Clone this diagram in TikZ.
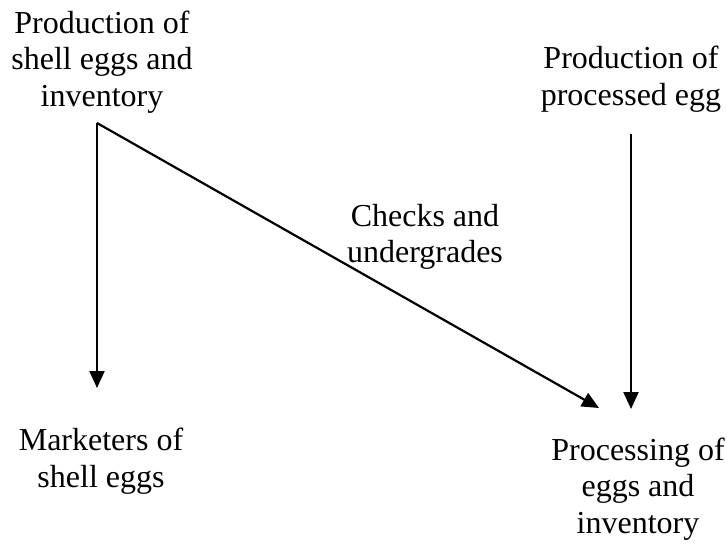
\documentclass[tikz,border=0pt]{standalone}
\usepackage{fontspec}
\setmainfont{Liberation Serif}
\usetikzlibrary{arrows.meta}
\begin{document}
\begin{tikzpicture}[x=1pt,y=-1pt,
  lbl/.style={align=center,inner sep=0pt,font=\fontsize{32}{36.5}\selectfont},
  conn/.style={line width=2.2pt,-{Triangle[length=17pt,width=15pt]}}]
\useasboundingbox (0,0) rectangle (727,544);
\node[lbl] (tl) at (102,62) {Production of\\shell eggs and\\inventory};
\node[lbl] (tr) at (631,79) {Production of\\processed egg};
\node[lbl] (mid) at (425,237) {Checks and\\undergrades};
\node[lbl] (bl) at (101,461) {Marketers of\\shell eggs};
\node[lbl] (br) at (638,489) {Processing of\\eggs and\\inventory};
\coordinate (s1) at (97,123);
\coordinate (e1) at (97,388);
\coordinate (e2) at (599,408);
\coordinate (s3) at (631,134);
\coordinate (e3) at (631,409);
\draw[conn] (s1) -- (e1);
\draw[conn] (s1) -- (e2);
\draw[conn] (s3) -- (e3);
\end{tikzpicture}
\end{document}
